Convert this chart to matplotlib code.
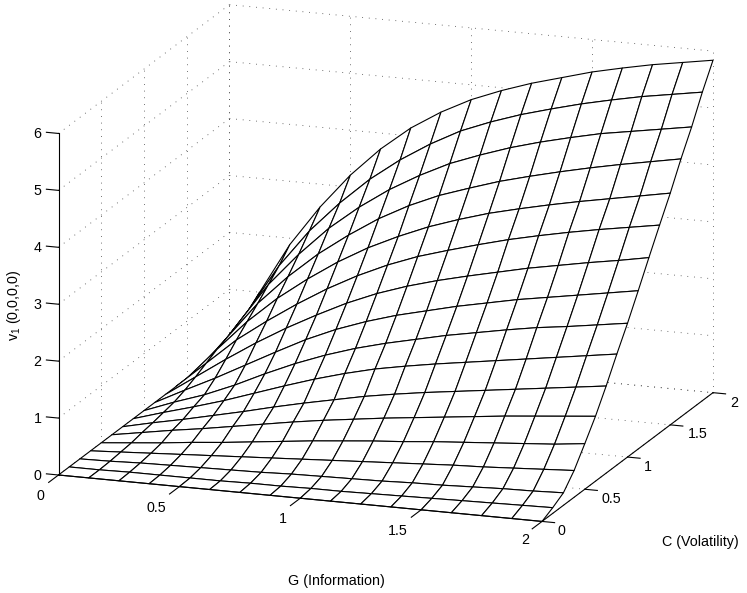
import numpy as np
import matplotlib
matplotlib.use('Agg')
import matplotlib.pyplot as plt
from mpl_toolkits.mplot3d import proj3d

plt.rcParams['font.family'] = ['Liberation Sans', 'DejaVu Sans']
plt.rcParams['mathtext.default'] = 'regular'

# grid of the mesh, G along a row, C along a column
g_vals = [0, 0.125, 0.25, 0.375, 0.5, 0.625, 0.75, 0.875, 1, 1.125, 1.25, 1.375, 1.5, 1.625, 1.75, 1.875, 2]
c_vals = [0, 0.125, 0.25, 0.375, 0.5, 0.625, 0.75, 0.875, 1, 1.125, 1.25, 1.375, 1.5, 1.625, 1.75, 1.875, 2]

# values, one row per C value
v_vals = [
    [0, 0, 0, 0, 0, 0, 0, 0, 0, 0, 0, 0, 0, 0, 0, 0, 0],
    [0, 0, 0.01, 0.01, 0.01, 0.01, 0.02, 0.02, 0.03, 0.03, 0.04, 0.05, 0.06, 0.07, 0.08, 0.09, 0.10],
    [0, 0.01, 0.03, 0.04, 0.05, 0.06, 0.07, 0.09, 0.10, 0.11, 0.12, 0.14, 0.15, 0.17, 0.19, 0.20, 0.22],
    [0, 0.03, 0.06, 0.09, 0.12, 0.15, 0.18, 0.21, 0.24, 0.27, 0.30, 0.33, 0.36, 0.38, 0.41, 0.44, 0.47],
    [0, 0.05, 0.10, 0.16, 0.21, 0.27, 0.33, 0.39, 0.44, 0.49, 0.53, 0.58, 0.62, 0.66, 0.70, 0.74, 0.80],
    [0, 0.09, 0.18, 0.26, 0.35, 0.44, 0.53, 0.61, 0.68, 0.75, 0.81, 0.87, 0.93, 0.99, 1.04, 1.09, 1.14],
    [0, 0.12, 0.23, 0.35, 0.47, 0.60, 0.72, 0.83, 0.94, 1.03, 1.11, 1.18, 1.25, 1.32, 1.39, 1.46, 1.53],
    [0, 0.16, 0.31, 0.47, 0.65, 0.83, 1.00, 1.15, 1.28, 1.38, 1.47, 1.55, 1.63, 1.71, 1.79, 1.87, 1.95],
    [0, 0.20, 0.38, 0.60, 0.85, 1.08, 1.28, 1.45, 1.59, 1.71, 1.83, 1.93, 2.03, 2.12, 2.19, 2.27, 2.35],
    [0, 0.27, 0.53, 0.81, 1.09, 1.36, 1.59, 1.78, 1.94, 2.07, 2.20, 2.31, 2.42, 2.51, 2.60, 2.69, 2.78],
    [0, 0.36, 0.72, 1.06, 1.37, 1.65, 1.91, 2.13, 2.31, 2.46, 2.59, 2.71, 2.83, 2.93, 3.03, 3.12, 3.22],
    [0, 0.46, 0.92, 1.30, 1.65, 1.97, 2.25, 2.49, 2.69, 2.85, 3.00, 3.14, 3.26, 3.37, 3.47, 3.56, 3.65],
    [0, 0.56, 1.10, 1.56, 1.95, 2.30, 2.60, 2.85, 3.07, 3.25, 3.41, 3.54, 3.66, 3.77, 3.87, 3.97, 4.07],
    [0, 0.64, 1.28, 1.80, 2.25, 2.63, 2.97, 3.25, 3.48, 3.66, 3.83, 3.97, 4.10, 4.22, 4.33, 4.43, 4.53],
    [0, 0.74, 1.47, 2.05, 2.56, 2.98, 3.34, 3.64, 3.90, 4.10, 4.28, 4.43, 4.56, 4.68, 4.77, 4.86, 4.95],
    [0, 0.84, 1.66, 2.32, 2.86, 3.33, 3.72, 4.05, 4.33, 4.54, 4.72, 4.87, 5.01, 5.13, 5.24, 5.33, 5.42],
    [0, 1.00, 1.89, 2.60, 3.21, 3.72, 4.14, 4.47, 4.74, 4.95, 5.13, 5.28, 5.43, 5.55, 5.66, 5.75, 5.84],
]

g_ticks = [0, 0.5, 1, 1.5, 2]
c_ticks = [0, 0.5, 1, 1.5, 2]
z_ticks = [0, 1, 2, 3, 4, 5, 6]
g_labels = ['0', '0.5', '1', '1.5', '2']
c_labels = ['0', '0.5', '1', '1.5', '2']
z_labels = ['0', '1', '2', '3', '4', '5', '6']

W, H = 747, 593
FONT = 10.3
SIDE = 820.0

fig = plt.figure(figsize=(W / 100, H / 100), dpi=100, facecolor='white')
ax = fig.add_axes([(W - SIDE) / 2 / W, (H - SIDE) / 2 / H, SIDE / W, SIDE / H],
                  projection='3d', proj_type='ortho')
ax.computed_zorder = False
ax.view_init(elev=15.6, azim=-70.35)
ax.set_axis_off()

G, C = np.meshgrid(g_vals, c_vals)
Z = np.array(v_vals)

dot = dict(color='#444444', linewidth=0.6, linestyle=(0, (1, 7)), zorder=1, clip_on=False)
solid = dict(color='black', linewidth=0.8, zorder=3, clip_on=False)

# dotted grid on the two walls and the floor
for z in z_ticks:
    ax.plot([0, 0], [0, 2], [z, z], **dot)
    ax.plot([0, 2], [2, 2], [z, z], **dot)
for c in c_ticks[1:]:
    ax.plot([0, 0], [c, c], [0, 6], **dot)
    ax.plot([0, 2], [c, c], [0, 0], **dot)
for g in g_ticks:
    ax.plot([g, g], [2, 2], [0, 6], **dot)
    ax.plot([g, g], [0, 2], [0, 0], **dot)

ax.plot_surface(G, C, Z, rstride=1, cstride=1, color='white', edgecolor='black',
                linewidth=0.8, shade=False, zorder=2)

# axis lines and ticks
ax.plot([0, 2], [0, 0], [0, 0], **solid)
ax.plot([2, 2], [0, 2], [0, 0], **solid)
ax.plot([0, 0], [0, 0], [0, 6], **solid)
for g in g_ticks:
    ax.plot([g, g], [0, -0.115], [0, 0], **solid)
for c in c_ticks:
    ax.plot([2, 2.052], [c, c], [0, 0], **solid)
for z in z_ticks:
    ax.plot([0, -0.05], [0, 0], [z, z], **solid)

ax.set_xlim(0, 2)
ax.set_ylim(0, 2)
ax.set_zlim(0, 6)


def to_px(g, c, z):
    x2, y2, _ = proj3d.proj_transform(g, c, z, ax.get_proj())
    px, py = ax.transData.transform((x2, y2))
    return px, H - py


# scale and shift the box so the corners land where they are in the picture
aspect = (514, 509, 355)
ax.set_box_aspect(aspect, zoom=1)
x0, y0 = to_px(0, 0, 0)
x1, y1 = to_px(2, 2, 0)
ax.set_box_aspect(aspect, zoom=(713 - 58.5) / (x1 - x0))
x0, y0 = to_px(0, 0, 0)
ax.set_position([((W - SIDE) / 2 + 58.5 - x0) / W, ((H - SIDE) / 2 - (475 - y0)) / H, SIDE / W, SIDE / H])


def tick_text(g, c, z, s, dx, dy, ha='center'):
    x2, y2, _ = proj3d.proj_transform(g, c, z, ax.get_proj())
    ax.annotate(s, xy=(x2, y2), xycoords='data', xytext=(dx, -dy), textcoords='offset pixels',
                ha=ha, va='center', fontsize=FONT, annotation_clip=False)


g_off = [(-18, 21), (-23, 21), (-17, 21), (-23, 21), (-17, 19)]
c_off = [(19, 10), (26.5, 9.5), (20, 10), (27.5, 9.5), (21, 10)]
for g, s, off in zip(g_ticks, g_labels, g_off):
    tick_text(g, 0, 0, s, off[0], off[1])
for c, s, off in zip(c_ticks, c_labels, c_off):
    tick_text(2, c, 0, s, off[0], off[1])
for z, s in zip(z_ticks, z_labels):
    tick_text(0, 0, z, s, -17, 0.5, ha='right')

fig.text(700 / W, 1 - 542 / H, 'C (Volatility)', fontsize=FONT, ha='center', va='center')
fig.text(336 / W, 1 - 581 / H, 'G (Information)', fontsize=FONT, ha='center', va='center')
fig.text(14 / W, 1 - 305 / H, 'v$_1$ (0,0,0,0)', fontsize=FONT, rotation=90, ha='center', va='center')

fig.savefig('out.png', dpi=100)
